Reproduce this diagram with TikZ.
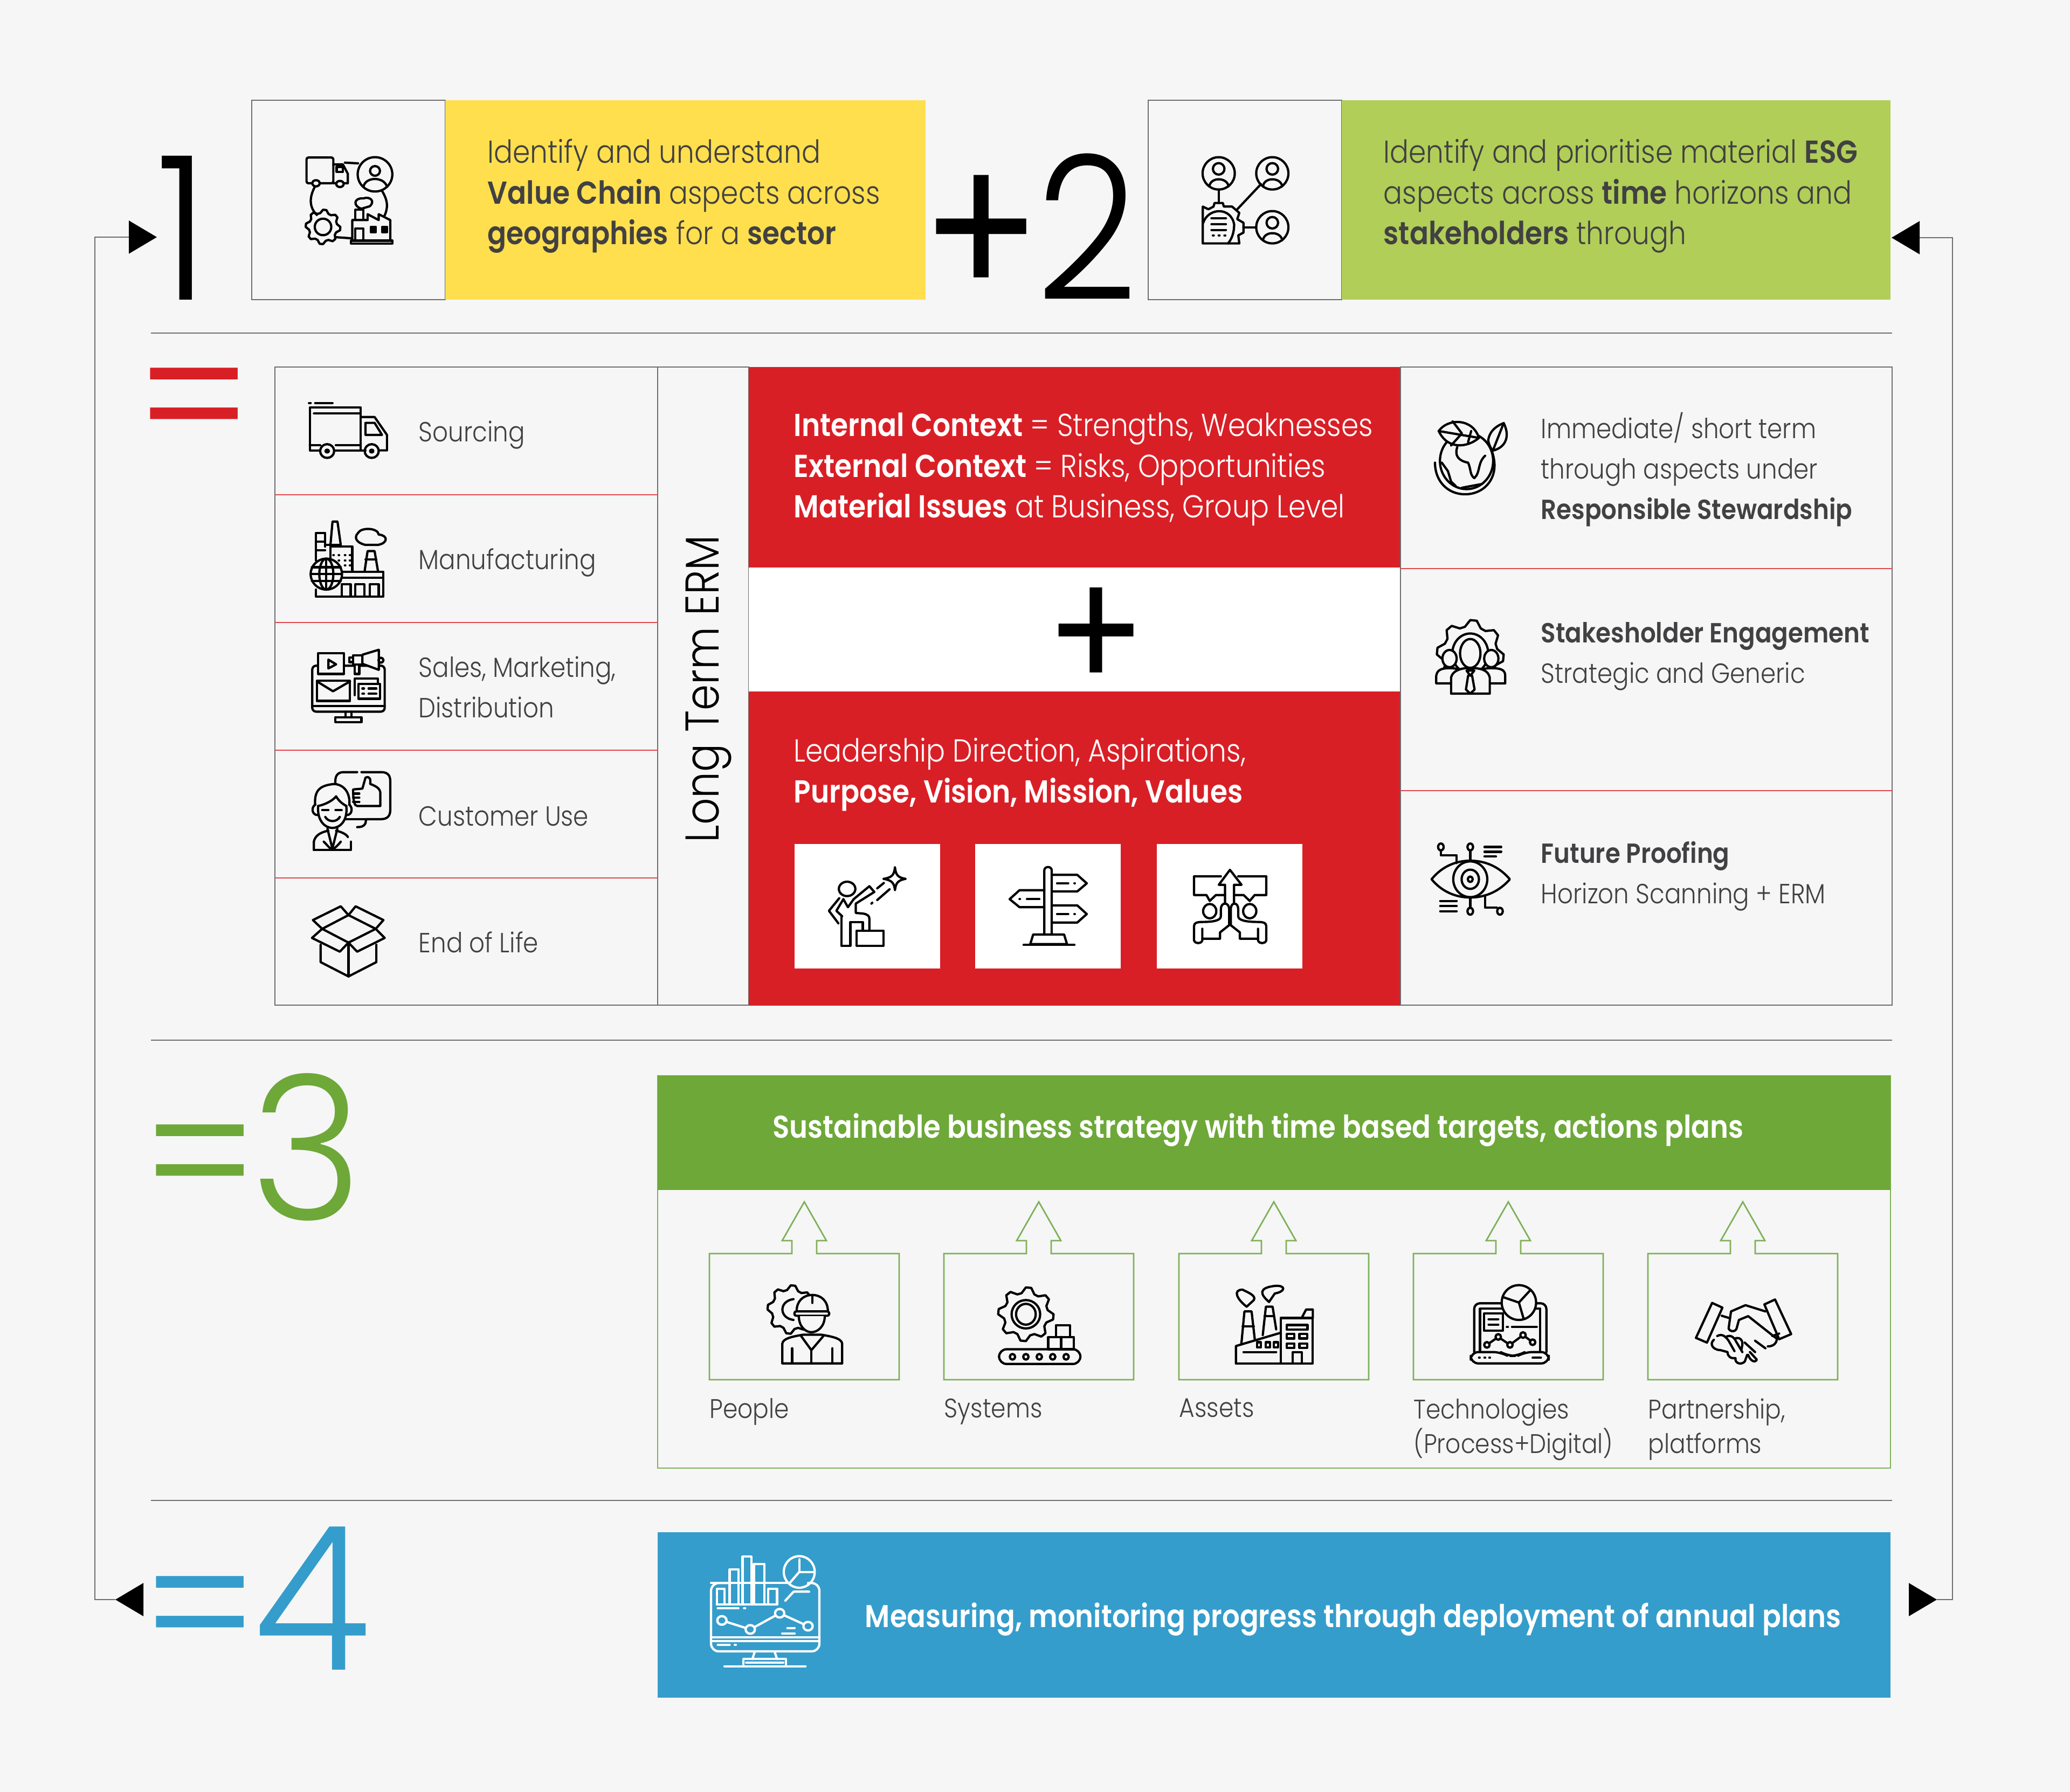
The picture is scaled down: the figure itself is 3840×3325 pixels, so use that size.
\documentclass[tikz,border=0pt]{standalone}
\usepackage{xcolor}
\usepackage{fontspec}
\setmainfont{Poppins Light}[BoldFont={Poppins SemiBold},FakeStretch=0.88]
\newfontfamily\plusfont{Poppins}[FakeStretch=0.88]
\usepackage{tikz}
\usetikzlibrary{arrows.meta,positioning,calc}

\definecolor{pagebg}{HTML}{F6F6F6}
\definecolor{inkgray}{HTML}{414042}
\definecolor{rulegray}{HTML}{6D6E71}
\definecolor{erpred}{HTML}{D91F26}
\definecolor{rowred}{HTML}{E2474C}
\definecolor{sunyellow}{HTML}{FFDF4D}
\definecolor{limegreen}{HTML}{B1CE58}
\definecolor{leafgreen}{HTML}{6DA838}
\definecolor{linegreen}{HTML}{7FB15A}
\definecolor{oceanblue}{HTML}{359DCB}

\tikzset{
  panel/.style={rectangle, anchor=north west, inner sep=0pt, outer sep=0pt},
  bodytext/.style={anchor=west, align=left, inner sep=0pt, text=inkgray, font=\fontsize{14.6pt}{21.3pt}\selectfont},
  largetext/.style={bodytext, font=\fontsize{16.75pt}{21.5pt}\selectfont},
  labeltext/.style={bodytext, font=\fontsize{14.2pt}{18.2pt}\selectfont},
  whitetext/.style={largetext, text=white},
  bannertext/.style={anchor=center, inner sep=0pt, text=white, font=\fontsize{16.6pt}{21.3pt}\selectfont\bfseries},
  bigfigure/.style={anchor=base west, inner sep=0pt, font=\fontsize{106pt}{106pt}\selectfont},
  bigequal/.style={anchor=base west, inner sep=0pt, font=\fontsize{103pt}{103pt}\selectfont},
  hairline/.style={draw=rulegray, line width=0.28mm},
  rowline/.style={draw=rowred, line width=0.25mm},
  greenline/.style={draw=linegreen, line width=0.28mm},
  flowline/.style={draw=rulegray, line width=0.28mm},
  flowtip/.style={-{Triangle[length=5.2mm,width=6.1mm,black]}},
  iconline/.style={draw=black, line width=0.42mm, line join=round, line cap=round},
  iconwhite/.style={draw=white, line width=0.42mm, line join=round, line cap=round},
  areaA/.style={shift={(150,150)},xscale=0.7653,yscale=0.6378},
  areaB/.style={shift={(480,1100)},xscale=0.574,yscale=0.5102},
  areaC/.style={shift={(1400,1500)},xscale=0.7653,yscale=0.3333},
  areaD/.style={shift={(2100,150)},xscale=0.3827,yscale=0.3333},
  areaE/.style={shift={(2600,750)},xscale=0.574,yscale=0.6378},
  areaF/.style={shift={(1200,2200)},xscale=0.8291,yscale=0.3508},
  areaG/.style={shift={(2500,2200)},xscale=0.6378,yscale=0.3508},
  areaH/.style={shift={(150,2780)},xscale=0.9567,yscale=0.3333},
}

% gear outline: cx, cy, rx, ry, points, inner ratio, style
\newcommand{\gearshape}[7]{%
  \draw[#7] ({#1+#3},#2) \foreach \i [evaluate=\i as \rr using {ifthenelse(mod(\i,4)<2,1,#6)}] in {1,...,#5}
    { -- ({#1+#3*\rr*cos(\i*360/#5)},{#2+#4*\rr*sin(\i*360/#5)}) } -- cycle;}
% person in a ring
\newcommand{\ringperson}[2]{%
  \draw[iconline] (#1,#2) ellipse (78 and 90);
  \draw[iconline] (#1,#2-25) ellipse (28 and 32);
  \draw[iconline] (#1-45,#2+72) .. controls (#1-40,#2+20) and (#1+40,#2+20) .. (#1+48,#2+72);}

\begin{document}
\begin{tikzpicture}[x=0.1mm,y=-0.1mm]
\useasboundingbox[fill=pagebg] (0,0) rectangle (3840,3325);

% step one and step two
\node[panel, draw=rulegray, line width=0.28mm, minimum width=35.9mm, minimum height=37mm] (iconone) at (467,186) {};
\node[panel, fill=sunyellow, minimum width=89.1mm, minimum height=37mm] (textone) at (826,186) {};
\node[panel, draw=rulegray, line width=0.28mm, minimum width=35.9mm, minimum height=37mm] (icontwo) at (2130,186) {};
\node[panel, fill=limegreen, minimum width=101.8mm, minimum height=37mm] (texttwo) at (2489,186) {};
\node[largetext] (onetext) at (904,364) {Identify and understand\\\textbf{Value Chain} aspects across\\\textbf{geographies} for a \textbf{sector}};
\node[largetext] (twotext) at (2566,364) {Identify and prioritise material \textbf{ESG}\\aspects across \textbf{time} horizons and\\\textbf{stakeholders} through};
\node[bigfigure] (numone) at (290,556) {1};
\node[bigfigure, font=\fontsize{106pt}{106pt}\plusfont] (plusone) at (1708,556) {+};
\node[bigfigure] (numtwo) at (1922,556) {2};

\draw[hairline] (280,618) -- (3510,618);
\draw[hairline] (280,1930) -- (3510,1930);
\draw[hairline] (280,2784) -- (3510,2784);

% step one detail
\node[bigequal, text=erpred] (eqred) at (252,864) {=};
\node[panel, draw=rulegray, line width=0.28mm, minimum width=71mm, minimum height=118.4mm] (chain) at (510,681) {};
\node[panel, draw=rulegray, line width=0.28mm, minimum width=16.9mm, minimum height=118.4mm] (ltcol) at (1220,681) {};
\foreach \ry in {918,1155,1392,1629} \draw[rowline] (510,\ry) -- (1220,\ry);
\node[bodytext] (srctext) at (776,807) {Sourcing};
\node[bodytext] (mfgtext) at (776,1044) {Manufacturing};
\node[bodytext] (salestext) at (776,1275) {Sales, Marketing,\\Distribution};
\node[bodytext] (custtext) at (776,1515) {Customer Use};
\node[bodytext] (eoltext) at (776,1748) {End of Life};
\node[inner sep=0pt, rotate=90, text=black, font=\fontsize{25pt}{25pt}\selectfont] (ltext) at (1315,1278) {Long Term ERM};

\node[panel, fill=erpred, minimum width=120.9mm, minimum height=37.2mm] (redtop) at (1389,681) {};
\node[panel, fill=white, minimum width=120.9mm, minimum height=23mm] (redgap) at (1389,1053) {};
\node[panel, fill=erpred, minimum width=120.9mm, minimum height=58.3mm] (redlow) at (1389,1283) {};
\node[whitetext] (ctxtext) at (1472,871) {\textbf{Internal Context} = Strengths, Weaknesses\\\textbf{External Context} = Risks, Opportunities\\\textbf{Material Issues} at Business, Group Level};
\node[whitetext] (leadtext) at (1472,1437) {Leadership Direction, Aspirations,\\\textbf{Purpose, Vision, Mission, Values}};
\node[inner sep=0pt, text=black, font=\fontsize{88pt}{88pt}\plusfont] (plusmid) at (2033,1186) {+};
\foreach \wx/\wn in {1474/aimbox,1809/signbox,2146/handbox}
  \node[panel, fill=white, minimum width=27mm, minimum height=23.1mm] (\wn) at (\wx,1566) {};

\node[panel, draw=rulegray, line width=0.28mm, minimum width=91.2mm, minimum height=118.4mm] (esgcol) at (2598,681) {};
\draw[rowline] (2598,1055) -- (3510,1055);
\draw[rowline] (2598,1467) -- (3510,1467);
\node[bodytext] (resptext) at (2858,871) {Immediate/ short term\\through aspects under\\\textbf{Responsible Stewardship}};
\node[bodytext] (engtext) at (2858,1218) {\textbf{Stakesholder Engagement}\\Strategic and Generic};
\node[bodytext] (futtext) at (2858,1626) {\textbf{Future Proofing}\\Horizon Scanning + ERM};

% step three
\node[bigequal, text=leafgreen] (eqthree) at (263,2268) {=};
\node[bigfigure, text=leafgreen, xscale=1.08] (numthree) at (465,2263) {3};
\node[panel, draw=linegreen, line width=0.28mm, minimum width=228.7mm, minimum height=72.8mm] (stratbox) at (1220,1996) {};
\node[panel, fill=leafgreen, minimum width=228.7mm, minimum height=21.2mm] (stratbar) at (1220,1996) {};
\node[bannertext] (strattext) at (2334,2097) {Sustainable business strategy with time based targets, actions plans};
\foreach \bx/\bn/\bl in {1316/pplbox/People,1751/sysbox/Systems,2187/astbox/Assets,2622/techbox/{Technologies\\(Process+Digital)},3057/partbox/{Partnership,\\platforms}} {
  \draw[greenline] (\bx,2326) -- ++(153,0) -- ++(0,-24) -- ++(-18,0) -- ++(41,-72) -- ++(41,72) -- ++(-18,0) -- ++(0,24) -- ++(153,0) -- ++(0,234) -- ++(-352,0) -- cycle;
  \node[labeltext, anchor=north west] (\bn) at (\bx,2594) {\bl};
}

% step four
\node[bigequal, text=oceanblue] (eqfour) at (263,3106) {=};
\node[bigfigure, text=oceanblue, xscale=1.08] (numfour) at (470,3098) {4};
\node[panel, fill=oceanblue, minimum width=228.7mm, minimum height=30.7mm] (measbar) at (1220,2843) {};
\node[bannertext] (meastext) at (2510,3005) {Measuring, monitoring progress through deployment of annual plans};

% feedback lines
\coordinate (lowL) at (214,2968);
\coordinate (baseL) at (265,2968);
\coordinate (farL) at (176,2968);
\coordinate (topL) at (176,440);
\coordinate (inone) at (291,440);
\draw[flowline, flowtip] (baseL) -- (lowL);
\draw[flowline, flowtip] (lowL) -- (farL) -- (topL) -- (inone);
\coordinate (lowR) at (3593,2968);
\coordinate (baseR) at (3541,2968);
\coordinate (farR) at (3622,2968);
\coordinate (topR) at (3622,441);
\coordinate (intwo) at (3509,441);
\draw[flowline, flowtip] (baseR) -- (lowR);
\draw[flowline, flowtip] (lowR) -- (farR) -- (topR) -- (intwo);

% value chain icon
\begin{scope}[areaA]
\draw[iconline] (572,298) .. controls (550,340) and (555,370) .. (572,390);
\draw[iconline] (640,238) -- (672,240);
\draw[iconline] (730,320) .. controls (745,350) and (745,370) .. (735,395);
\draw[iconline] (620,455) -- (655,458);
\draw[iconline, rounded corners=1pt] (547,298) -- (547,223) -- (612,223) -- (612,298) -- cycle;
\draw[iconline] (612,243) -- (635,243) -- (647,270) -- (647,298) -- (612,298);
\draw[iconline] (620,250) rectangle (635,265);
\draw[iconline, fill=pagebg] (570,298) ellipse (9 and 9);
\draw[iconline, fill=pagebg] (628,300) ellipse (9 and 9);
\draw[iconline, fill=pagebg] (713,272) ellipse (42 and 50);
\draw[iconline] (713,262) ellipse (12 and 14);
\draw[iconline] (685,308) .. controls (690,278) and (735,278) .. (742,308);
\gearshape{587}{425}{42}{50}{32}{0.82}{iconline}
\draw[iconline] (587,425) ellipse (20 and 24);
\draw[iconline] (655,465) rectangle (755,473);
\draw[iconline] (658,465) -- (658,405) -- (695,405) -- (695,388) -- (722,405) -- (722,388) -- (750,405) -- (750,465);
\draw[iconline] (665,405) rectangle (685,375);
\draw[iconline] (665,465) rectangle (685,430);
\draw[iconline, fill=black] (703,425) rectangle (715,440);
\draw[iconline, fill=black] (730,425) rectangle (742,440);
\draw[iconline] (680,372) .. controls (660,365) and (660,340) .. (685,342) .. controls (700,335) and (715,350) .. (700,365) -- (680,372);
\end{scope}

% stakeholder map icon
\begin{scope}[areaD]
\ringperson{420}{515}
\ringperson{680}{515}
\ringperson{680}{815}
\draw[iconline] (420,605) -- (420,680);
\draw[iconline] (625,575) -- (510,715);
\draw[iconline] (540,815) -- (600,815);
\draw[iconline] (343,905) -- (343,700) -- (370,715) -- (395,700) -- (400,680) -- (440,680) -- (445,700) -- (485,700) -- (520,735) -- (510,770) -- (540,790) -- (540,845) -- (515,860) -- (520,905) -- cycle;
\draw[iconline] (345,790) .. controls (370,705) and (480,700) .. (495,800) .. controls (495,840) and (485,880) .. (465,905);
\foreach \ly in {765,798,830} \draw[iconline] (385,\ly) -- (455,\ly);
\foreach \lx in {392,420,448} \draw[iconline] (\lx,860) -- (\lx+4,860);
\end{scope}

% sourcing truck
\begin{scope}[areaA]
\draw[iconline] (580,1075) -- (555,1075) -- (555,950) -- (678,950) -- (678,1075) -- (615,1075);
\draw[iconline] (565,968) -- (678,968);
\draw[iconline] (555,1060) -- (580,1060);
\draw[iconline] (618,1060) -- (678,1060);
\draw[iconline] (553,937) -- (557,937);
\draw[iconline] (568,937) -- (610,937);
\draw[iconline] (678,978) -- (712,978) -- (742,1030) -- (742,1075) -- (722,1075);
\draw[iconline] (690,1075) -- (678,1075);
\draw[iconline] (690,995) -- (712,995) -- (730,1030) -- (690,1030) -- cycle;
\draw[iconline] (597,1077) ellipse (17 and 20);
\draw[iconline] (705,1077) ellipse (17 and 20);
\draw[iconline] (597,1077) ellipse (4 and 4);
\draw[iconline] (705,1077) ellipse (4 and 4);
\end{scope}

% manufacturing icon
\begin{scope}[areaA]
\draw[iconline] (570,1395) -- (570,1315) -- (592,1315) -- (592,1355);
\draw[iconline] (570,1340) -- (592,1340);
\draw[iconline] (570,1365) -- (592,1365);
\draw[iconline] (605,1350) -- (610,1282) -- (622,1282) -- (630,1350);
\draw[iconline] (592,1350) -- (630,1350) -- (630,1355);
\draw[iconline] (605,1395) -- (605,1355) -- (658,1355) -- (658,1425);
\foreach \wy in {1380,1395,1410} \foreach \wx in {612,625,640,652} \draw[iconline] (\wx,\wy) -- (\wx+1,\wy);
\draw[iconline] (570,1480) -- (570,1500) -- (733,1500) -- (733,1428) -- (630,1428);
\draw[iconline] (620,1445) -- (733,1445);
\foreach \dx in {632,665,700} \draw[iconline] (\dx,1500) -- (\dx,1465) -- (\dx+22,1465) -- (\dx+22,1500);
\draw[iconline] (688,1425) -- (695,1368) -- (712,1368) -- (720,1425);
\draw[iconline] (690,1392) -- (716,1392);
\draw[iconline] (690,1350) -- (720,1350) .. controls (745,1345) and (745,1322) .. (722,1320) .. controls (720,1300) and (680,1298) .. (672,1315) .. controls (660,1330) and (670,1345) .. (690,1350);
\draw[iconline, fill=pagebg] (595,1435) ellipse (38 and 45);
\draw[iconline] (595,1435) ellipse (17 and 45);
\draw[iconline] (595,1390) -- (595,1480);
\foreach \gy in {1415,1435,1455} \draw[iconline] (560,\gy) -- (630,\gy);
\end{scope}

% sales icon
\begin{scope}[areaB]
\draw[iconline, rounded corners=2pt] (173,265) rectangle (407,432);
\draw[iconline] (173,412) -- (407,412);
\draw[iconline] (280,432) -- (280,452);
\draw[iconline] (300,432) -- (300,452);
\draw[iconline] (248,452) rectangle (332,470);
\draw[iconline, fill=pagebg] (192,220) rectangle (275,295);
\draw[iconline] (225,243) -- (250,260) -- (225,275) -- cycle;
\draw[iconline, fill=pagebg] (335,225) -- (388,207) -- (388,280) -- (335,258) -- cycle;
\draw[iconline, fill=pagebg] (305,228) rectangle (335,260);
\draw[iconline, fill=pagebg] (310,260) rectangle (325,295);
\draw[iconline] (292,235) rectangle (305,252);
\draw[iconline] (395,245) ellipse (8 and 9);
\draw[iconline] (188,320) rectangle (295,393);
\draw[iconline] (188,322) -- (240,358) -- (295,322);
\draw[iconline] (310,372) -- (310,312) -- (385,312) -- (385,332);
\draw[iconline, fill=pagebg] (322,332) rectangle (392,385);
\draw[iconline] (355,348) -- (380,348);
\draw[iconline] (355,367) -- (380,367);
\draw[iconline] (335,348) -- (340,348);
\draw[iconline] (335,367) -- (340,367);
\end{scope}

% customer use icon
\begin{scope}[areaB]
\draw[iconline] (248,695) .. controls (245,665) and (255,652) .. (275,652) -- (318,652);
\draw[iconline] (332,652) -- (395,652) .. controls (418,652) and (425,665) .. (425,685) -- (425,790) .. controls (425,812) and (415,823) .. (395,823) -- (347,823) -- (345,838) .. controls (340,850) and (330,852) .. (318,852);
\draw[iconline] (345,823) .. controls (335,823) and (300,823) .. (280,823);
\draw[iconline] (350,775) -- (318,775) .. controls (310,775) and (305,760) .. (305,715) -- (335,712) -- (345,672) .. controls (360,665) and (362,680) .. (360,695) .. controls (385,705) and (393,715) .. (393,730) -- (393,775) -- (350,775);
\foreach \fy in {730,745,760} \draw[iconline] (305,\fy) -- (325,\fy);
\draw[iconline] (192,775) .. controls (188,830) and (215,855) .. (238,855) .. controls (262,855) and (288,830) .. (283,775);
\draw[iconline] (182,770) .. controls (180,720) and (195,700) .. (245,695) .. controls (285,700) and (295,740) .. (293,770);
\draw[iconline] (192,775) .. controls (215,770) and (240,755) .. (250,740) .. controls (260,760) and (275,770) .. (283,775);
\draw[iconline] (183,770) .. controls (168,780) and (172,810) .. (192,808);
\draw[iconline] (292,770) .. controls (305,780) and (302,808) .. (285,808);
\draw[iconline] (205,790) -- (225,790);
\draw[iconline] (248,790) -- (268,790);
\draw[iconline] (215,815) .. controls (225,835) and (252,835) .. (262,815);
\draw[iconline] (178,935) -- (178,905) .. controls (182,885) and (195,872) .. (225,865);
\draw[iconline] (250,865) .. controls (270,870) and (285,880) .. (288,888);
\draw[iconline] (298,905) -- (298,935) -- (178,935);
\draw[iconline] (222,858) -- (238,930) -- (254,858);
\draw[iconline] (210,905) .. controls (220,915) and (225,925) .. (235,932);
\draw[iconline] (265,905) .. controls (258,915) and (250,925) .. (240,932);
\end{scope}

% end of life box
\begin{scope}[areaB]
\draw[iconline] (200,1280) -- (200,1343) -- (290,1395) -- (380,1343) -- (380,1280);
\draw[iconline] (290,1272) -- (290,1395);
\draw[iconline] (205,1222) -- (290,1172) -- (378,1222) -- (290,1272) -- cycle;
\draw[iconline] (205,1222) -- (175,1190) -- (265,1140) -- (290,1172);
\draw[iconline] (290,1172) -- (313,1140) -- (403,1190) -- (378,1222);
\draw[iconline] (205,1222) -- (172,1255) -- (262,1305) -- (290,1272);
\draw[iconline] (378,1222) -- (407,1255) -- (318,1305) -- (290,1272);
\end{scope}

% leadership icons
\begin{scope}[areaC]
\draw[iconline] (224,448) ellipse (20 and 40);
\draw[iconline] (205,500) -- (180,570) -- (203,640);
\draw[iconline] (212,600) -- (198,570) -- (215,505) -- (226,550) -- (240,505) -- (278,433) -- (290,465) -- (245,530) -- (245,582) -- (262,585) .. controls (275,590) and (278,600) .. (278,615) -- (278,680);
\draw[iconline] (210,600) -- (210,765) -- (232,765) -- (232,632) -- (262,632) -- (262,680);
\draw[iconline] (247,680) rectangle (312,765);
\draw[iconline] (340,328) .. controls (342,365) and (345,385) .. (366,392) .. controls (345,400) and (342,420) .. (340,455) .. controls (338,420) and (335,400) .. (312,392) .. controls (335,385) and (338,365) .. (340,328);
\draw[iconline] (297,445) -- (313,415);
\draw[iconline] (297,510) -- (327,450);
\draw[iconline] (283,530) -- (285,525);
\draw[iconline] (702,700) -- (702,345) .. controls (702,320) and (720,320) .. (720,345) -- (720,700);
\draw[iconline] (720,370) -- (782,370) -- (805,417) -- (782,462) -- (720,462);
\draw[iconline] (702,455) -- (642,455) -- (618,505) -- (642,550) -- (702,550);
\draw[iconline] (720,540) -- (782,540) -- (805,588) -- (782,635) -- (720,635);
\draw[iconline] (733,417) -- (760,417);
\draw[iconline] (775,417) -- (776,417);
\draw[iconline] (660,505) -- (690,505);
\draw[iconline] (642,505) -- (643,505);
\draw[iconline] (733,588) -- (760,588);
\draw[iconline] (775,588) -- (776,588);
\draw[iconline] (675,702) -- (750,702) -- (757,755) -- (668,755) -- cycle;
\draw[iconline] (652,760) -- (775,760);
\draw[iconline] (1130,378) -- (1065,378) -- (1065,482) -- (1095,482) -- (1103,515) -- (1118,482) -- (1140,482);
\draw[iconline] (1172,378) -- (1240,378) -- (1240,482) -- (1212,482) -- (1200,515) -- (1185,482) -- (1162,482);
\draw[iconline] (1140,525) -- (1140,425) -- (1125,425) -- (1152,342) -- (1180,425) -- (1162,425) -- (1162,525);
\draw[iconline] (1103,572) ellipse (16 and 40);
\draw[iconline] (1200,572) ellipse (16 and 40);
\draw[iconline] (1150,650) -- (1150,560) .. controls (1150,520) and (1130,520) .. (1130,560) -- (1130,600) .. controls (1130,625) and (1110,632) .. (1085,632) .. controls (1070,632) and (1065,640) .. (1065,655) -- (1065,735) .. controls (1068,755) and (1082,755) .. (1085,735) -- (1085,670);
\draw[iconline] (1085,725) -- (1128,725) -- (1128,690) -- (1150,650);
\draw[iconline] (1154,650) -- (1154,560) .. controls (1154,520) and (1172,520) .. (1172,560) -- (1172,600) .. controls (1172,625) and (1195,632) .. (1220,632) .. controls (1235,632) and (1240,640) .. (1240,655) -- (1240,735) .. controls (1237,755) and (1223,755) .. (1220,735) -- (1220,670);
\draw[iconline] (1220,725) -- (1176,725) -- (1176,690) -- (1154,650);
\end{scope}

% right column icons
\begin{scope}[areaE]
\draw[iconline] (210,165) ellipse (86 and 82);
\draw[iconline] (108,170) .. controls (108,225) and (150,262) .. (205,262) .. controls (265,262) and (305,220) .. (300,170) .. controls (298,150) and (292,135) .. (285,122);
\draw[iconline, fill=pagebg] (120,78) .. controls (150,40) and (230,40) .. (250,98) .. controls (215,125) and (150,135) .. (120,78);
\draw[iconline] (120,78) -- (250,98);
\draw[iconline] (160,120) -- (195,85) -- (165,50);
\draw[iconline] (215,110) -- (225,78);
\draw[iconline, fill=pagebg] (280,105) .. controls (285,75) and (310,62) .. (330,55) .. controls (350,90) and (340,125) .. (295,135) .. controls (285,125) and (282,115) .. (280,105);
\draw[iconline] (295,135) -- (330,55);
\draw[iconline] (180,125) .. controls (170,150) and (185,165) .. (215,170) .. controls (225,190) and (220,205) .. (235,215) .. controls (255,200) and (245,170) .. (270,150);
\draw[iconline] (130,170) -- (150,195) -- (160,225) -- (175,238);
\draw[iconline] (195,243) -- (260,232);
\gearshape{222}{728}{108}{100}{32}{0.82}{iconline}
\draw[iconline, fill=pagebg] (222,725) ellipse (58 and 58);
\draw[iconline, fill=pagebg] (155,740) ellipse (23 and 25);
\draw[iconline, fill=pagebg] (290,740) ellipse (23 and 25);
\draw[iconline, fill=pagebg] (222,725) ellipse (33 and 42);
\draw[iconline, fill=pagebg] (112,812) -- (112,790) .. controls (115,770) and (135,768) .. (155,768) .. controls (175,768) and (195,770) .. (200,790) -- (245,790) .. controls (250,770) and (270,768) .. (290,768) .. controls (315,768) and (335,770) .. (335,790) -- (335,812) -- cycle;
\draw[iconline, fill=pagebg] (160,842) -- (160,795) .. controls (165,775) and (190,770) .. (205,768) -- (240,768) .. controls (260,770) and (280,775) .. (285,795) -- (285,842) -- cycle;
\draw[iconline] (210,775) -- (222,790) -- (235,775) -- cycle;
\draw[iconline] (215,790) -- (208,830) -- (222,842) -- (236,830) -- (228,790);
\draw[iconline] (97,1382) .. controls (130,1345) and (175,1328) .. (222,1328) .. controls (270,1328) and (315,1345) .. (350,1382) .. controls (315,1418) and (270,1435) .. (222,1435) .. controls (175,1435) and (130,1418) .. (97,1382);
\draw[iconline] (222,1382) ellipse (55 and 52);
\draw[iconline] (222,1382) ellipse (28 and 28);
\draw[iconline] (222,1382) ellipse (8 and 8);
\draw[iconline] (127,1288) ellipse (9 and 10);
\draw[iconline] (127,1298) -- (127,1312) -- (177,1312) -- (177,1335);
\draw[iconline] (222,1288) ellipse (9 and 10);
\draw[iconline] (222,1298) -- (222,1328);
\draw[iconline] (268,1288) -- (322,1288);
\draw[iconline] (268,1302) -- (322,1302);
\draw[iconline] (268,1316) -- (305,1316);
\draw[iconline] (222,1435) -- (222,1465);
\draw[iconline] (222,1475) ellipse (9 and 10);
\draw[iconline] (270,1430) -- (270,1465) -- (308,1465);
\draw[iconline] (318,1475) ellipse (9 and 10);
\draw[iconline] (125,1445) -- (178,1445);
\draw[iconline] (125,1460) -- (178,1460);
\draw[iconline] (125,1475) -- (178,1475);
\end{scope}

% capability icons
\begin{scope}[areaF]
\gearshape{322}{655}{52}{128}{32}{0.82}{iconline}
\draw[iconline] (328,600) .. controls (295,610) and (295,700) .. (328,710);
\draw[iconline, fill=pagebg] (335,665) .. controls (335,610) and (350,578) .. (370,578) .. controls (390,578) and (405,610) .. (405,665);
\draw[iconline, fill=pagebg, rounded corners=1pt] (330,665) rectangle (408,688);
\draw[iconline, fill=pagebg] (340,690) .. controls (340,745) and (355,775) .. (368,775) .. controls (382,775) and (398,745) .. (398,690);
\draw[iconline] (370,580) -- (370,620);
\draw[iconline] (303,940) -- (303,835) .. controls (305,810) and (320,800) .. (350,788) -- (390,788) .. controls (420,800) and (435,810) .. (437,835) -- (437,940) -- cycle;
\draw[iconline] (345,795) -- (368,870) -- (395,795);
\draw[iconline] (368,870) -- (368,940);
\draw[iconline] (325,860) -- (325,940);
\draw[iconline] (415,860) -- (415,940);
\gearshape{848}{680}{62}{142}{32}{0.8}{iconline}
\draw[iconline] (848,680) ellipse (32 and 75);
\draw[iconline] (848,680) ellipse (22 and 55);
\draw[iconline, rounded corners=4pt] (788,865) rectangle (970,943);
\foreach \hx in {818,848,878,908,938} \draw[iconline] (\hx,905) ellipse (6 and 15);
\draw[iconline] (898,865) rectangle (955,800);
\draw[iconline] (927,800) -- (927,865);
\draw[iconline] (915,800) rectangle (947,738);
\draw[iconline] (1318,940) -- (1490,940) -- (1490,700) -- (1418,700) -- (1418,940);
\draw[iconline] (1318,940) -- (1318,848) -- (1418,778);
\draw[iconline] (1465,700) -- (1475,655) -- (1490,655) -- (1490,700);
\draw[iconline] (1330,840) -- (1337,665) -- (1353,665) -- (1360,810);
\draw[iconline] (1333,745) -- (1358,745);
\draw[iconline] (1378,790) -- (1385,640) -- (1400,640) -- (1408,760);
\draw[iconline] (1382,690) -- (1403,690);
\draw[iconline] (1342,640) .. controls (1320,600) and (1310,550) .. (1333,550) .. controls (1340,560) and (1365,580) .. (1358,605) -- (1342,640);
\draw[iconline] (1392,615) .. controls (1370,570) and (1370,540) .. (1405,530) .. controls (1430,525) and (1430,560) .. (1405,570) -- (1392,615);
\foreach \mx in {1365,1385,1403} \draw[iconline] (\mx,828) rectangle (\mx+9,855);
\draw[iconline] (1335,880) -- (1408,880);
\draw[iconline] (1432,737) rectangle (1478,762);
\foreach \mx in {1432,1460} {\draw[iconline] (\mx,785) rectangle (\mx+17,808); \draw[iconline] (\mx,835) rectangle (\mx+17,858);}
\draw[iconline] (1445,940) -- (1445,880) -- (1465,880) -- (1465,940);
\end{scope}
\begin{scope}[areaG]
\draw[iconline, rounded corners=3pt] (455,622) -- (368,622) -- (368,880);
\draw[iconline, rounded corners=3pt] (540,622) -- (578,622) -- (578,880);
\draw[iconline] (385,880) -- (385,650) -- (560,650) -- (560,880);
\draw[iconline, rounded corners=4pt] (358,880) -- (445,880) -- (465,900) -- (495,900) -- (515,880) -- (585,880) -- (585,940) -- (358,940) -- cycle;
\draw[iconline, fill=pagebg] (498,618) ellipse (50 and 92);
\draw[iconline] (498,618) -- (530,555);
\draw[iconline] (498,618) -- (453,590);
\draw[iconline] (498,618) -- (512,705);
\draw[iconline] (397,675) rectangle (452,767);
\draw[iconline] (410,706) -- (438,706);
\draw[iconline] (410,735) -- (438,735);
\draw[iconline] (463,747) -- (466,747);
\draw[iconline] (478,747) -- (550,747);
\draw[iconline] (405,842) -- (438,800) -- (472,842) -- (510,790) -- (538,828);
\foreach \px/\py in {405/842,438/800,472/842,510/790,538/828} \draw[iconline, fill=pagebg] (\px,\py) ellipse (8 and 15);
\draw[iconline] (382,910) -- (384,910);
\draw[iconline] (398,910) -- (400,910);
\draw[iconline] (412,910) -- (414,910);
\draw[iconline] (538,910) -- (562,910);
\draw[iconline] (1060,620) -- (1090,645) -- (1045,830) -- (1013,805) -- cycle;
\draw[iconline] (1243,602) -- (1290,785) -- (1255,812) -- (1212,628) -- cycle;
\draw[iconline] (1088,688) -- (1110,700);
\draw[iconline] (1215,665) -- (1157,632) -- (1115,665) -- (1108,755) .. controls (1112,775) and (1130,775) .. (1132,750) -- (1138,710) -- (1165,690) -- (1245,805);
\draw[iconline] (1248,800) .. controls (1250,830) and (1240,850) .. (1222,850);
\draw[iconline] (1235,795) -- (1255,782);
\draw[iconline] (1065,815) .. controls (1050,840) and (1065,870) .. (1085,870) -- (1105,880) .. controls (1105,905) and (1115,915) .. (1128,912) .. controls (1125,940) and (1145,950) .. (1155,930) -- (1162,895);
\draw[iconline] (1075,795) .. controls (1090,780) and (1100,800) .. (1108,820) -- (1125,875);
\draw[iconline] (1100,800) .. controls (1115,785) and (1125,805) .. (1130,825) -- (1148,880);
\draw[iconline] (1125,810) .. controls (1140,795) and (1150,820) .. (1148,840) -- (1145,870);
\draw[iconline] (1155,830) -- (1185,880);
\draw[iconline] (1185,820) -- (1215,860);
\draw[iconline] (1165,895) .. controls (1170,925) and (1185,940) .. (1190,920) -- (1170,880);
\end{scope}

% monitoring icon
\begin{scope}[areaH]
\draw[iconwhite, rounded corners=4pt] (1222,472) -- (1370,472);
\draw[iconwhite, rounded corners=4pt] (1258,472) -- (1222,472) -- (1222,852) -- (1432,852) -- (1432,472) -- (1410,472);
\draw[iconwhite] (1222,775) -- (1432,775);
\draw[iconwhite] (1222,795) -- (1432,795);
\draw[iconwhite] (1307,852) -- (1302,895);
\draw[iconwhite] (1345,852) -- (1350,895);
\draw[iconwhite] (1285,925) -- (1285,895) -- (1367,895) -- (1367,925);
\draw[iconwhite] (1290,915) -- (1362,915);
\draw[iconwhite] (1248,935) -- (1405,935);
\draw[iconwhite] (1233,590) rectangle (1248,505);
\draw[iconwhite] (1258,590) rectangle (1275,395);
\draw[iconwhite] (1283,590) rectangle (1300,325);
\draw[iconwhite] (1305,590) rectangle (1325,365);
\draw[iconwhite] (1333,590) rectangle (1350,505);
\draw[iconwhite] (1233,590) -- (1350,590);
\draw[iconwhite] (1393,410) ellipse (30 and 88);
\draw[iconwhite] (1393,340) -- (1393,410) -- (1420,410);
\draw[iconwhite] (1393,410) -- (1375,470);
\draw[iconwhite] (1366,570) -- (1382,520) -- (1412,520);
\draw[iconwhite] (1235,612) -- (1275,612);
\draw[iconwhite] (1286,612) -- (1288,612);
\draw[iconwhite] (1243,680) -- (1298,730) -- (1355,640) -- (1410,712);
\foreach \px/\py in {1243/680,1298/730,1355/640,1410/712} \draw[iconwhite, fill=oceanblue] (\px,\py) ellipse (9 and 24);
\draw[iconwhite] (1370,722) -- (1384,722);
\draw[iconwhite] (1360,753) -- (1384,753);
\draw[iconwhite] (1235,815) -- (1258,815);
\draw[iconwhite] (1268,815) -- (1270,815);
\end{scope}
\end{tikzpicture}
\end{document}
